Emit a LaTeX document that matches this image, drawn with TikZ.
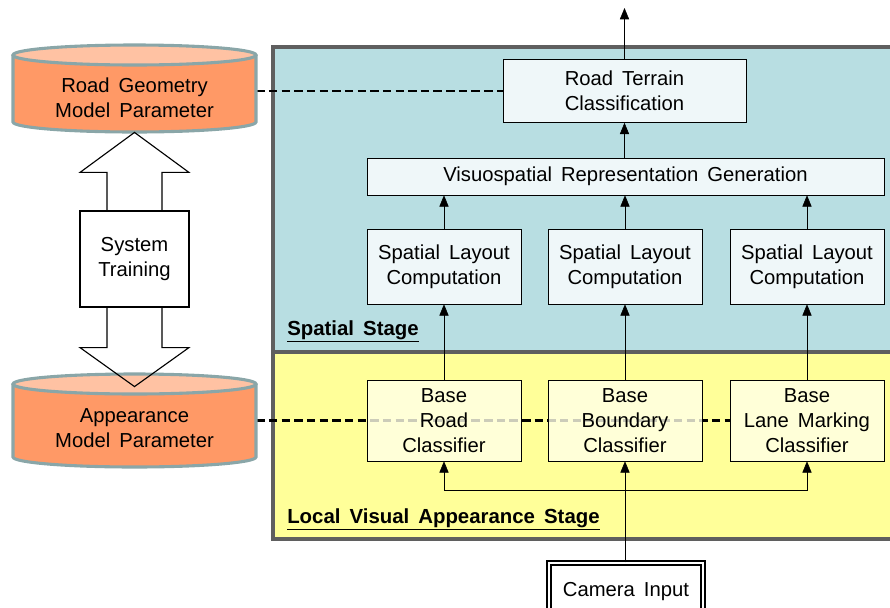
\documentclass[tikz,border=0pt]{standalone}
\usepackage{fontspec}
\setmainfont{Liberation Sans}[WordSpace=1.6]
\usetikzlibrary{arrows.meta}
\definecolor{spatialbg}{RGB}{184,222,226}
\definecolor{localbg}{RGB}{255,255,153}
\definecolor{framegray}{RGB}{95,95,95}
\definecolor{cylbody}{RGB}{255,153,102}
\definecolor{cyltop}{RGB}{255,194,163}
\definecolor{cylrim}{RGB}{138,166,168}
\definecolor{boxblue}{RGB}{239,247,249}
\definecolor{boxyellow}{RGB}{255,255,232}
\pgfdeclarelayer{back}
\pgfdeclarelayer{links}
\pgfsetlayers{back,links,main}

\begin{document}
\begin{tikzpicture}[
        x=0.025cm, y=0.025cm,
        font=\fontsize{14.4}{18}\selectfont,
        >={Triangle[length=8pt,width=6.5pt]},
        semithick,
        spbox/.style={draw, fill=boxblue, align=center, inner sep=0pt},
        layoutbox/.style={spbox, minimum width=3.85cm, minimum height=1.875cm},
        basebox/.style={draw, fill=boxyellow, fill opacity=0.8, text opacity=1,
                        align=center, inner sep=0pt,
                        minimum width=3.85cm, minimum height=2.025cm},
        link/.style={line width=2pt, dash pattern=on 6pt off 3pt},
        stagelabel/.style={anchor=base west, inner sep=0pt, font=\fontsize{14.5}{18}\selectfont\bfseries},
        cyltext/.style={align=center, minimum width=6.075cm, inner sep=0pt},
        rim/.style={draw=cylrim, line width=2.2pt},
        bigarrow/.style={draw, line width=0.8pt, line join=miter}
        ]
        \useasboundingbox (0,0) rectangle (890,-607);

        % stages
        \begin{pgfonlayer}{back}
        \fill[spatialbg] (273,-47) rectangle (900,-352);
        \fill[localbg] (273,-352) rectangle (900,-539);
        \draw[framegray, line width=2.8pt] (900,-47) -- (273,-47) -- (273,-539) -- (900,-539);
        \draw[framegray, line width=2.8pt] (273,-352) -- (900,-352);
        \end{pgfonlayer}
        \node[stagelabel] (sp) at (287,-335) {\underline{Spatial Stage}};
        \node[stagelabel] (lv) at (287,-523) {\underline{Local Visual Appearance Stage}};

        % parameter stores
        \foreach \t/\b in {55/122, 384/457} {
            \filldraw[rim, fill=cylbody] (13,-\t) -- (13,-\b)
                arc[start angle=180, end angle=360, x radius=121.5, y radius=10] -- (256,-\t);
            \filldraw[rim, fill=cyltop] (134.5,-\t) ellipse[x radius=121.5, y radius=10];
        }
        \node[cyltext] (geo) at (134.5,-98) {Road Geometry\\Model Parameter};
        \node[cyltext] (app) at (134.5,-428) {Appearance\\Model Parameter};

        % training
        \node[draw, fill=white, line width=0.8pt, minimum width=2.725cm, minimum height=2.4cm,
              align=center, inner sep=0pt] (train) at (134.5,-259) {System\\Training};
        \draw[bigarrow] ([xshift=-0.6875cm]train.north) -- ++(0,38) -- ++(-27,0) -- ++(54.5,40)
            -- ++(54.5,-40) -- ++(-27,0) -- ++(0,-38);
        \draw[bigarrow] ([xshift=-0.6875cm]train.south) -- ++(0,-40) -- ++(-27,0) -- ++(54.5,-39)
            -- ++(54.5,39) -- ++(-27,0) -- ++(0,40);

        % spatial stage
        \node[spbox, minimum width=6.075cm, minimum height=1.575cm] (rtc) at (624.5,-91) {Road Terrain\\Classification};
        \node[spbox, minimum width=12.925cm, minimum height=0.925cm] (visuo) at (625.5,-176.5) {Visuospatial Representation Generation};
        \node[layoutbox] (lay1) at (444,-266.5) {Spatial Layout\\Computation};
        \node[layoutbox] (lay2) at (625,-266.5) {Spatial Layout\\Computation};
        \node[layoutbox] (lay3) at (807,-266.5) {Spatial Layout\\Computation};

        % local stage
        \node[basebox] (road) at (444,-420.5) {Base\\Road\\Classifier};
        \node[basebox] (bound) at (625,-420.5) {Base\\Boundary\\Classifier};
        \node[basebox] (lane) at (807,-420.5) {Base\\Lane Marking\\Classifier};

        \node[draw, double, double distance=2pt, line width=0.8pt, fill=white,
              minimum width=3.85cm, minimum height=1.45cm] (cam) at (626,-592) {Camera Input};

        % flow
        \coordinate (out) at (624.5,-8);
        \coordinate (split) at (625,-490);
        \draw[->] (rtc.north) -- (out);
        \draw[->] (rtc.south |- visuo.north) -- (rtc.south);
        \foreach \n in {lay1,lay2,lay3}
            \draw[->] (\n.north) -- (\n.north |- visuo.south);
        \draw[->] (road.north) -- (lay1.south);
        \draw[->] (bound.north) -- (lay2.south);
        \draw[->] (lane.north) -- (lay3.south);
        \draw[->] (bound.south |- cam.north) -- (bound.south);
        \draw[->] (split) -| (road.south);
        \draw[->] (split) -| (lane.south);

        % parameter links
        \begin{pgfonlayer}{links}
        \draw[link] (geo.east |- rtc.west) -- (rtc.west);
        \draw[link] (app.east |- road.west) -- (lane.west);
        \end{pgfonlayer}
\end{tikzpicture}
\end{document}
